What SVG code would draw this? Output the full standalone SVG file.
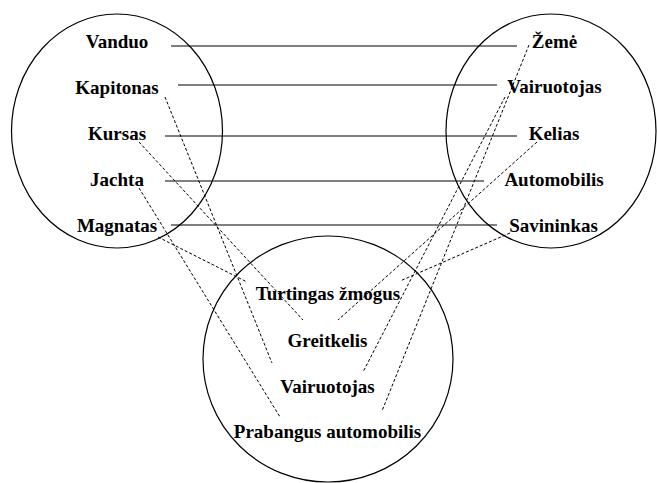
<svg xmlns="http://www.w3.org/2000/svg" width="657" height="483" viewBox="0 0 657 483">
<style>
.c{fill:none;stroke:#000;stroke-width:1.2}
.s{stroke:#000;stroke-width:1.2}
.d{stroke:#000;stroke-width:1;stroke-dasharray:3 2}
text{font-family:"Liberation Serif","Times New Roman",serif;font-weight:bold;font-size:19px;text-anchor:middle;fill:#000}
</style>
<rect width="657" height="483" fill="#fff"/>
<g id="circle-left"><ellipse class="c" cx="117" cy="131" rx="105.5" ry="117"/></g>
<g id="circle-right"><ellipse class="c" cx="551" cy="131" rx="105" ry="117"/></g>
<g id="circle-bottom"><ellipse class="c" cx="328" cy="359" rx="125" ry="123"/></g>
<g id="connectors">
<line class="s" x1="171" y1="46" x2="517" y2="46"/>
<line class="s" x1="178" y1="85" x2="497" y2="85"/>
<line class="s" x1="165" y1="136" x2="517" y2="136"/>
<line class="s" x1="165" y1="181" x2="484" y2="181"/>
<line class="s" x1="171" y1="225" x2="497" y2="225"/>
<line class="d" x1="165" y1="97" x2="272" y2="363"/>
<line class="d" x1="139" y1="142" x2="303" y2="320"/>
<line class="d" x1="139" y1="188" x2="280" y2="417"/>
<line class="d" x1="158" y1="237" x2="247" y2="282"/>
<line class="d" x1="529" y1="45" x2="382" y2="411"/>
<line class="d" x1="505" y1="97" x2="363" y2="372"/>
<line class="d" x1="537" y1="142" x2="338" y2="320"/>
<line class="d" x1="510" y1="233" x2="400" y2="281"/>
</g>
<g id="n-vanduo"><text x="117" y="48">Vanduo</text></g>
<g id="n-kapitonas"><text x="117" y="94">Kapitonas</text></g>
<g id="n-kursas"><text x="117" y="140">Kursas</text></g>
<g id="n-jachta"><text x="117" y="186">Jachta</text></g>
<g id="n-magnatas"><text x="117" y="232">Magnatas</text></g>
<g id="n-zeme"><text x="554.5" y="48">Žemė</text></g>
<g id="n-vairuotojas-r"><text x="554.5" y="93">Vairuotojas</text></g>
<g id="n-kelias"><text x="554" y="140">Kelias</text></g>
<g id="n-automobilis"><text x="554" y="186">Automobilis</text></g>
<g id="n-savininkas"><text x="553.5" y="232">Savininkas</text></g>
<g id="n-turtingas"><text x="328" y="300">Turtingas žmogus</text></g>
<g id="n-greitkelis"><text x="327.5" y="347">Greitkelis</text></g>
<g id="n-vairuotojas-b"><text x="327.5" y="393">Vairuotojas</text></g>
<g id="n-prabangus"><text x="327.5" y="438">Prabangus automobilis</text></g>
</svg>
